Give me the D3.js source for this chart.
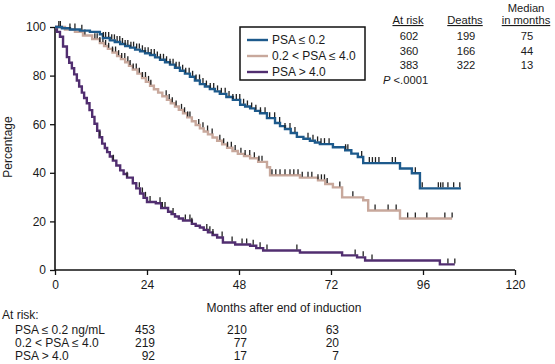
<!DOCTYPE html>
<html><head><meta charset="utf-8">
<script src="https://cdn.jsdelivr.net/npm/d3@7"></script>
<style>body{margin:0;background:#fff}svg text{font-family:"Liberation Sans",Arial,sans-serif;fill:#1a1a1a}</style>
</head><body><svg id="c" width="555" height="364"></svg>
<script>
// Kaplan-Meier step points [month, percentage]
const psaLow = [[0,100],[1.8,99.5],[3.9,99],[6.5,98.5],[9.1,98],[11.7,97],[12.5,95.5],[14.3,94.5],[15.6,93.8],[17,93],[18.3,92.2],[19.6,91.5],[20.9,90.7],[22.2,90],[23.5,89.2],[24.8,88.5],[26.1,87.5],[27.4,86.5],[28.7,85.5],[30,84.5],[31.3,83.2],[32.6,82],[33.9,80.8],[35.2,79.5],[36.5,78],[37.8,76.5],[39.1,75.5],[40.4,74.5],[41.7,73.5],[43,72.5],[44.7,71.2],[46.4,70],[48.3,68],[49.6,67.3],[50.9,66.5],[52.2,65.5],[53.5,64.5],[55.3,62.5],[57.4,60.5],[58.7,59.2],[60,58],[61.5,56.4],[63.1,54.8],[64.8,54],[66.5,53.2],[67.8,52.5],[69.1,51.8],[72.5,50.5],[75.7,49.3],[77.3,47.9],[79,46.5],[80.4,44],[90,41.8],[93.1,39.8],[95.2,33.6],[105.9,33.6]];
const psaMid = [[0,100],[2.6,99],[5.2,98],[7.3,96.5],[9.7,95],[11.7,93.4],[12.8,92.2],[13.8,91],[15,89.5],[16.2,88],[17.2,86.8],[18.3,85.5],[19.3,84],[20.3,82.5],[21.5,80.8],[22.7,79],[23.7,77.4],[24.8,75.8],[25.8,74.4],[26.9,73],[28,71.5],[29.2,70],[30.2,68.6],[31.3,67.3],[32.3,65.9],[33.4,64.5],[34.5,62.8],[35.7,61.2],[36.7,59.7],[37.8,58.3],[38.8,57],[39.9,55.8],[41.1,54.5],[42.3,53.2],[43.6,51.7],[44.9,50.3],[46.3,49],[47.7,47.8],[49.3,46.9],[50.9,46],[53,44.5],[55.3,42.3],[56.1,39],[63.9,38],[68.6,36.9],[70.5,35.4],[72.5,34],[74.9,29.9],[80.4,28.7],[81.7,24.5],[90,21.2],[103.6,21.2]];
const psaHigh = [[0,100],[0.5,98],[1.3,96],[2.1,92],[3.1,87.6],[3.7,85.3],[4.4,83],[5,80.5],[5.7,78],[6.3,75.5],[7,73],[7.6,70.8],[8.3,68.6],[9,65.8],[9.7,63],[10.3,60.2],[11,57.3],[11.6,54.6],[12.3,52],[13,50.2],[13.6,48.5],[14.3,46.7],[15.1,45],[16,43],[17,41],[17.9,39.5],[18.8,38],[20.3,35.7],[21.2,33.6],[22.2,31.5],[23.1,29.7],[24,28],[26.3,27.5],[27.7,25.5],[29.5,24],[30.4,23],[31.3,22],[32.3,21.2],[33.4,20.4],[35.7,19],[36.7,18.2],[37.8,17.5],[38.8,16.5],[39.9,15.5],[41.1,14.4],[42.3,13.4],[43.8,11.3],[47,10.5],[50.9,10],[52.5,9],[54.3,8],[63.9,7.2],[74.9,6],[78.8,5.2],[80.9,3.9],[100.4,2.3],[104.3,2.3]];
// censored observations (months)
const censLow = [1,1.4,3.9,5.2,7,12.6,13.2,14,14.8,15.5,16.2,16.9,17.6,18.3,19,19.8,20.5,21.3,22,22.8,23.5,24.3,25.1,25.9,26.7,27.5,28.3,29.1,30,30.8,31.6,32.4,33.3,34.1,35,35.9,36.8,37.7,38.6,39.5,40.5,41.4,42.4,43.4,44.4,45.4,46.4,47.3,48.2,49.2,50.2,51.3,52.4,53.6,54.8,56,57.3,58.6,60,61.3,62.6,66,67.3,68.5,69.4,70.3,71.5,75.8,76.4,80,82,82.8,83.6,84.5,88,88.8,94,95.8,100,100.6,101.2,102.5,104,105.6];
const censMid = [7.8,10.4,11,11.7,12.5,13.2,14,15,15.8,16.6,17.4,18.2,19,19.6,20.4,21.2,22,22.8,23.6,24.4,25,29,29.8,30.6,31.6,33,33.8,34.6,35.2,37.5,38.6,39.8,41,43,44,45,46,47,48.5,49.6,50.8,52,53.2,54,56.6,57.6,58.7,60,61.3,62.3,63.4,64.5,66,67,68.6,69.5,70.3,71,74.3,77.7,83.5,86.9,89,92,94,97,101.7,103.6];
const censHigh = [11.7,15.2,18.8,22,22.8,23.6,24.8,27.4,28,28.7,30.8,34,35.2,35.7,39.6,40.4,41.2,43.6,46.2,48.8,50,51.7,53.5,55.3,63.1,78.3,80.4,82.7,102.5,104.3];
const xTicks = [0,24,48,72,96,120];
const yTicks = [0,20,40,60,80,100];
const groups = ["PSA ≤ 0.2","0.2 < PSA ≤ 4.0","PSA > 4.0"];
const riskLabels = ["PSA ≤ 0.2 ng/mL","0.2 < PSA ≤ 4.0","PSA > 4.0"];
const riskMonths = [24,48,72];
const riskLow = [453,210,63];
const riskMid = [219,77,20];
const riskHigh = [92,17,7];
const tblHead = ["At risk","Deaths","Median"];
const tblAtRisk = [602,360,383];
const tblDeaths = [199,166,322];
const tblMedian = [75,44,13];
const colors = ["#1d5a8c","#c8a89c","#512e70"];

const FS = 12, TS = 11.2;
const svg = d3.select("#c");
const x = d3.scaleLinear().domain([0,120]).range([55,515]);
const y = d3.scaleLinear().domain([0,100]).range([270,27]);

// axes
const gx = svg.append("g").attr("transform","translate(0,270)")
  .call(d3.axisBottom(x).tickValues(xTicks).tickSize(5).tickPadding(5));
const gy = svg.append("g").attr("transform","translate(55,0)")
  .call(d3.axisLeft(y).tickValues(yTicks).tickSize(5).tickPadding(4));
[gx,gy].forEach(g=>{
  g.select(".domain").attr("stroke","#111").attr("stroke-width",1.6);
  g.selectAll(".tick line").attr("stroke","#111").attr("stroke-width",1.3);
  g.selectAll(".tick text").attr("font-size",FS).style("font-family","'Liberation Sans',Arial,sans-serif").attr("fill","#1a1a1a");
});
gx.select(".domain").attr("d","M55,0H515");
gy.select(".domain").attr("d","M0,27V270");

svg.append("text").attr("transform","translate(12,147) rotate(-90)").attr("text-anchor","middle").attr("font-size",FS).text("Percentage");
svg.append("text").attr("x",284).attr("y",312).attr("text-anchor","middle").attr("font-size",FS).text("Months after end of induction");

// curves
const series = [psaLow, psaMid, psaHigh];
const cens = [censLow, censMid, censHigh];
const line = d3.line().x(d=>x(d[0])).y(d=>y(d[1])).curve(d3.curveStepAfter);
function survAt(s,t){let v=s[0][1];for(const p of s){if(p[0]<=t)v=p[1];else break;}return v;}
[2,1,0].forEach(i=>{
  svg.append("path").attr("d",line(series[i])).attr("fill","none")
    .attr("stroke",colors[i]).attr("stroke-width",2.4);
  svg.append("g").selectAll("line").data(cens[i]).join("line")
    .attr("x1",d=>x(d)).attr("x2",d=>x(d))
    .attr("y1",d=>y(survAt(series[i],d))-1).attr("y2",d=>y(survAt(series[i],d))-6)
    .attr("stroke","#222").attr("stroke-width",1.3);
});

// legend
const lg = svg.append("g");
lg.append("rect").attr("x",240).attr("y",27).attr("width",125).attr("height",53)
  .attr("fill","#fff").attr("stroke","#111").attr("stroke-width",1.5);
groups.forEach((g,i)=>{
  const yy = 40 + i*16;
  lg.append("line").attr("x1",247).attr("x2",268).attr("y1",yy).attr("y2",yy)
    .attr("stroke",colors[i]).attr("stroke-width",2.4);
  lg.append("text").attr("x",272).attr("y",yy+4).attr("font-size",FS).text(g);
});

// summary table
const tcx = [408,465,526];
tblHead.forEach((h,i)=>{
  const t = svg.append("text").attr("x",tcx[i]).attr("y",i===2?12:24).attr("text-anchor","middle").attr("font-size",TS).text(h);
  if(i<2) t.attr("text-decoration","underline");
});
svg.append("text").attr("x",tcx[2]).attr("y",24).attr("text-anchor","middle").attr("font-size",TS).attr("text-decoration","underline").text("in months");
const rowY = [40,54.5,69];
[tblAtRisk,tblDeaths,tblMedian].forEach((col,ci)=>{
  col.forEach((v,ri)=>{
    svg.append("text").attr("x",tcx[ci]+1).attr("y",rowY[ri]).attr("text-anchor","middle").attr("font-size",TS).text(v);
  });
});
const pt = svg.append("text").attr("x",383).attr("y",83.5).attr("font-size",TS);
pt.append("tspan").attr("font-style","italic").text("P");
pt.append("tspan").text(" <.0001");

// at-risk table
svg.append("text").attr("x",2).attr("y",319).attr("font-size",FS).text("At risk:");
[riskLow,riskMid,riskHigh].forEach((row,ri)=>{
  const yy = 334 + ri*13;
  svg.append("text").attr("x",15).attr("y",yy).attr("font-size",FS).text(riskLabels[ri]);
  row.forEach((v,ci)=>{
    svg.append("text").attr("x",x(riskMonths[ci])+8).attr("y",yy).attr("text-anchor","end").attr("font-size",FS).text(v);
  });
});
</script></body></html>
